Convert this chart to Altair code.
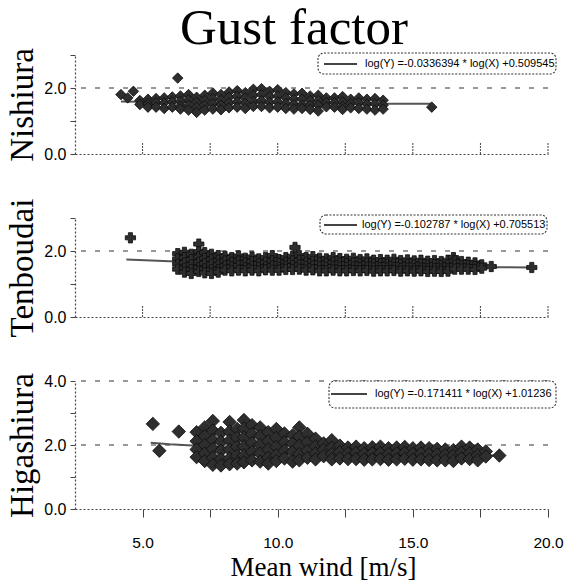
import altair as alt
import pandas as pd

# ---------------- data ----------------
x_ticks = [5.0, 7.5, 10.0, 12.5, 15.0, 17.5, 20.0]
y_ticks_3 = [0, 1, 2, 3]
y_ticks_4 = [0, 1, 2, 3, 4]

station_names = ["Nishiura", "Tenboudai", "Higashiura"]
legend_texts = [
    "log(Y) =-0.0336394 * log(X) +0.509545",
    "log(Y) =-0.102787 * log(X) +0.705513",
    "log(Y) =-0.171411 * log(X) +1.01236",
]

# Nishiura: columns of mean wind, with gust factors in each column
nishiura_x = [4.2, 4.45, 4.66, 4.9, 5.2, 5.5, 5.8, 6.1, 6.3, 6.4, 6.7, 7.0, 7.3, 7.6,
              7.9, 8.2, 8.5, 8.8, 9.1, 9.4, 9.7, 10.0, 10.3, 10.6, 10.9, 11.2, 11.5,
              11.8, 12.1, 12.4, 12.7, 13.0, 13.3, 13.6, 13.9, 15.7]
nishiura_y = [[1.80], [1.70], [1.90], [1.62, 1.50], [1.66, 1.52, 1.42], [1.68, 1.55, 1.42],
              [1.70, 1.55, 1.38], [1.73, 1.58, 1.42], [2.30], [1.76, 1.60, 1.45, 1.36],
              [1.80, 1.64, 1.48, 1.33], [1.72, 1.57, 1.42, 1.26], [1.78, 1.62, 1.47, 1.33],
              [1.85, 1.68, 1.52, 1.36], [1.80, 1.64, 1.48, 1.34], [1.88, 1.72, 1.55, 1.40],
              [1.92, 1.75, 1.58, 1.42], [1.86, 1.70, 1.53, 1.38], [1.96, 1.78, 1.60, 1.44],
              [1.98, 1.80, 1.62, 1.44], [1.90, 1.74, 1.57, 1.40], [1.95, 1.76, 1.58, 1.42],
              [1.86, 1.70, 1.53, 1.38], [1.82, 1.66, 1.50, 1.36], [1.84, 1.66, 1.48, 1.38],
              [1.76, 1.62, 1.47, 1.35], [1.78, 1.62, 1.48, 1.30], [1.70, 1.56, 1.43],
              [1.70, 1.56, 1.42], [1.74, 1.58, 1.44, 1.35], [1.66, 1.53, 1.40],
              [1.70, 1.55, 1.38], [1.66, 1.51, 1.36], [1.68, 1.52, 1.33], [1.63, 1.48, 1.36],
              [1.42]]
nishiura_fit_x = [4.2, 6.0, 8.0, 10.0, 12.0, 14.0, 15.7]
nishiura_fit_y = [1.59, 1.57, 1.56, 1.54, 1.53, 1.52, 1.52]

# Tenboudai
tenboudai_x = [4.55, 6.30, 6.55, 6.80, 7.08, 7.30, 7.55, 7.80, 8.05, 8.30, 8.55, 8.80, 9.05,
               9.30, 9.55, 9.80, 10.05, 10.30, 10.55, 10.64, 10.80, 11.05, 11.30, 11.55,
               11.80, 12.05, 12.30, 12.55, 12.80, 13.05, 13.30, 13.55, 13.80, 14.05, 14.30,
               14.55, 14.80, 15.05, 15.30, 15.55, 15.80, 16.05, 16.30, 16.50, 16.55, 16.80,
               17.05, 17.30, 17.55, 17.90, 19.40]
tenboudai_y = [[2.40], [1.92, 1.76, 1.60, 1.45], [1.96, 1.80, 1.64, 1.48, 1.36],
               [1.90, 1.74, 1.58, 1.44, 1.32], [2.21, 1.98, 1.82, 1.66, 1.50, 1.38],
               [1.95, 1.78, 1.62, 1.46, 1.34], [1.90, 1.75, 1.60, 1.44, 1.32],
               [1.86, 1.72, 1.58, 1.44, 1.36], [1.84, 1.70, 1.55, 1.42], [1.80, 1.66, 1.52, 1.40],
               [1.85, 1.70, 1.56, 1.42], [1.78, 1.64, 1.50, 1.40], [1.82, 1.68, 1.54, 1.42],
               [1.76, 1.62, 1.50, 1.40], [1.80, 1.66, 1.52, 1.43], [1.86, 1.70, 1.55, 1.42],
               [1.74, 1.62, 1.50, 1.42], [1.80, 1.66, 1.54, 1.44], [1.84, 1.70, 1.56, 1.44],
               [2.11], [1.86, 1.72, 1.58, 1.45], [1.80, 1.66, 1.53, 1.42], [1.83, 1.69, 1.55, 1.43],
               [1.78, 1.65, 1.52, 1.40], [1.76, 1.63, 1.50, 1.40], [1.80, 1.66, 1.53, 1.42],
               [1.77, 1.64, 1.51, 1.40], [1.75, 1.62, 1.50, 1.40], [1.78, 1.64, 1.51, 1.41],
               [1.74, 1.61, 1.49, 1.40], [1.76, 1.63, 1.50, 1.41], [1.72, 1.60, 1.48, 1.39],
               [1.74, 1.61, 1.49, 1.40], [1.72, 1.60, 1.48, 1.40], [1.75, 1.62, 1.50, 1.41],
               [1.71, 1.59, 1.47, 1.39], [1.73, 1.60, 1.48, 1.40], [1.70, 1.58, 1.46, 1.39],
               [1.72, 1.60, 1.48, 1.40], [1.69, 1.57, 1.46, 1.38], [1.71, 1.59, 1.47, 1.39],
               [1.68, 1.56, 1.45, 1.38], [1.72, 1.58, 1.46, 1.39], [1.80], [1.70, 1.57, 1.45],
               [1.68, 1.56, 1.45], [1.66, 1.55, 1.45], [1.64, 1.53, 1.44], [1.58, 1.48],
               [1.53], [1.50]]
tenboudai_fit_x = [4.4, 6.0, 8.0, 10.0, 12.0, 14.0, 16.0, 18.0, 19.4]
tenboudai_fit_y = [1.74, 1.69, 1.64, 1.60, 1.57, 1.55, 1.52, 1.51, 1.50]

# Higashiura
higashiura_x = [5.38, 5.62, 6.34, 7.00, 7.30, 7.60, 7.90, 8.22, 8.50, 8.75, 9.05, 9.35, 9.65,
                9.95, 10.25, 10.55, 10.80, 11.10, 11.40, 11.70, 12.00, 12.30, 12.60, 12.90,
                13.20, 13.50, 13.80, 14.10, 14.40, 14.70, 15.00, 15.30, 15.60, 15.90, 16.20,
                16.50, 16.80, 17.10, 17.40, 17.70, 18.20]
higashiura_y = [[2.66], [1.82], [2.42], [2.40, 2.12, 1.86, 1.62], [2.55, 2.28, 2.00, 1.74, 1.50],
                [2.75, 2.45, 2.16, 1.88, 1.60, 1.38], [2.38, 2.10, 1.82, 1.56, 1.36],
                [2.72, 2.42, 2.14, 1.86, 1.58, 1.40], [2.50, 2.22, 1.94, 1.66, 1.42],
                [2.78, 2.52, 2.24, 1.96, 1.68, 1.46], [2.62, 2.34, 2.06, 1.78, 1.52],
                [2.55, 2.28, 2.00, 1.74, 1.48], [2.40, 2.12, 1.86, 1.60, 1.42],
                [2.50, 2.22, 1.94, 1.68, 1.50], [2.36, 2.08, 1.82, 1.58], [2.30, 2.04, 1.78, 1.48],
                [2.55, 2.26, 1.98, 1.72, 1.52], [2.35, 2.08, 1.82, 1.60], [2.20, 1.96, 1.74, 1.55],
                [2.05, 1.85, 1.65], [2.15, 1.92, 1.72, 1.55], [1.98, 1.78, 1.58], [1.92, 1.74, 1.56],
                [1.95, 1.76, 1.56], [1.90, 1.72, 1.54], [1.93, 1.74, 1.55], [1.95, 1.75, 1.56],
                [1.90, 1.72, 1.54], [1.92, 1.73, 1.55], [1.94, 1.75, 1.57], [1.90, 1.72, 1.54],
                [1.92, 1.73, 1.55], [1.90, 1.71, 1.53], [1.88, 1.70, 1.52], [1.86, 1.68, 1.52],
                [1.84, 1.67, 1.50], [1.95, 1.76, 1.58], [1.92, 1.74, 1.56], [1.86, 1.68, 1.52],
                [1.80, 1.64], [1.67]]
higashiura_fit_x = [5.3, 6.0, 8.0, 10.0, 12.0, 14.0, 16.0, 18.2]
higashiura_fit_y = [2.07, 2.02, 1.93, 1.86, 1.80, 1.75, 1.71, 1.67]

grid_levels = [[2.0], [2.0], [2.0, 4.0]]

# ---------------- styling ----------------
SERIF = "Liberation Serif"
SANS = "Liberation Sans"
PW = 473


def flatten(xs, ys):
    rx, ry = [], []
    for x, col in zip(xs, ys):
        for y in col:
            rx.append(x)
            ry.append(y)
    return pd.DataFrame({"x": rx, "y": ry})


def panel(i, xs, ys, fx, fy, ymax, yticks, height, shape, size, box, bottom):
    name = station_names[i]
    xs_scale = alt.Scale(domain=[2.5, 20], nice=False, zero=False)
    ys_scale = alt.Scale(domain=[0, ymax], nice=False)
    if bottom:
        xaxis = alt.Axis(values=x_ticks, title="Mean wind [m/s]",
                         labelExpr="datum.value % 5 == 0 ? format(datum.value, '.1f') : ''",
                         labelFlush=False, labelFontSize=15.5,
                         tickSize=8, labelPadding=18, titlePadding=4,
                         titleFont=SERIF, titleFontSize=27, titleFontWeight="normal",
                         titleColor="black", titleX=248)
    else:
        xaxis = alt.Axis(labels=False, ticks=False, title=None)
    yaxis = alt.Axis(values=yticks, title=name,
                     labelExpr="datum.value % 2 == 0 ? format(datum.value, '.1f') : ''",
                     tickSize=5, labelPadding=4, titlePadding=4,
                     titleFont=SERIF, titleFontSize=33, titleFontWeight="normal",
                     titleColor="black")
    X = alt.X("x:Q", scale=xs_scale, axis=xaxis)
    Y = alt.Y("y:Q", scale=ys_scale, axis=yaxis)

    pts = alt.Chart(flatten(xs, ys)).mark_point(
        shape=shape, size=size, filled=True, fill="#2e2e2e", stroke="#0d0d0d",
        strokeWidth=0.8, opacity=1
    ).encode(x=X, y=Y)

    grid = alt.Chart(pd.DataFrame({"y": grid_levels[i]})).mark_rule(
        strokeDash=[5, 9], color="#333333", strokeWidth=1.2
    ).encode(y=Y)

    fit = alt.Chart(pd.DataFrame({"x": fx, "y": fy})).mark_line(
        color="#555555", strokeWidth=2
    ).encode(x=X, y=Y)

    layers = [grid, fit, pts]

    if not bottom:
        tk = alt.Chart(pd.DataFrame({"x": x_ticks})).mark_rule(
            color="#444444", strokeWidth=1, strokeDash=[2, 1]
        ).encode(x=X, y=alt.value(height), y2=alt.value(height - 11))
        layers.insert(0, tk)

    bx0, bx1, by0, by1, lx0, lx1, tx, ty = box
    leg_df = pd.DataFrame({"eq": [legend_texts[i]]})
    leg_box = alt.Chart(leg_df).mark_rect(
        fill="white", stroke="#333333", strokeDash=[2, 1.5], strokeWidth=1.1,
        cornerRadius=6
    ).encode(x=alt.value(bx0), x2=alt.value(bx1), y=alt.value(by0), y2=alt.value(by1))
    leg_line = alt.Chart(leg_df).mark_rule(color="#444444", strokeWidth=2).encode(
        x=alt.value(lx0), x2=alt.value(lx1), y=alt.value(ty))
    leg_text = alt.Chart(leg_df).mark_text(
        align="left", baseline="middle", font=SANS, fontSize=11, color="black"
    ).encode(x=alt.value(tx), y=alt.value(ty), text="eq:N")
    layers += [leg_box, leg_line, leg_text]

    return alt.layer(*layers).properties(width=PW, height=height)


p1 = panel(0, nishiura_x, nishiura_y, nishiura_fit_x, nishiura_fit_y, 3, y_ticks_3, 99,
           "diamond", 110, (243, 481, -2, 19, 249, 282, 290, 9), False)
p2 = panel(1, tenboudai_x, tenboudai_y, tenboudai_fit_x, tenboudai_fit_y, 3, y_ticks_3, 99,
           "cross", 105, (245, 472, -3, 16, 249, 282, 287, 7), False)
p3 = panel(2, higashiura_x, higashiura_y, higashiura_fit_x, higashiura_fit_y, 4, y_ticks_4, 128,
           "diamond", 180, (254, 481, 0, 27, 256, 292, 300, 13), True)

chart = alt.vconcat(p1, p2, p3, spacing=64, bounds="flush").properties(
    title=alt.TitleParams("Gust factor", font=SERIF, fontSize=51, fontWeight="normal",
                          color="black", anchor="middle", dx=9, offset=-7),
    padding={"left": 6, "top": 2, "right": 0, "bottom": 2},
).configure_view(stroke=None).configure_axis(
    labelFont=SANS, labelFontSize=16, labelColor="black",
    tickColor="#444444", domainColor="#444444", domainDash=[2, 2], domainWidth=1.2,
    grid=False
)

chart.save("out.html", embed_options={"renderer": "svg", "actions": False})
